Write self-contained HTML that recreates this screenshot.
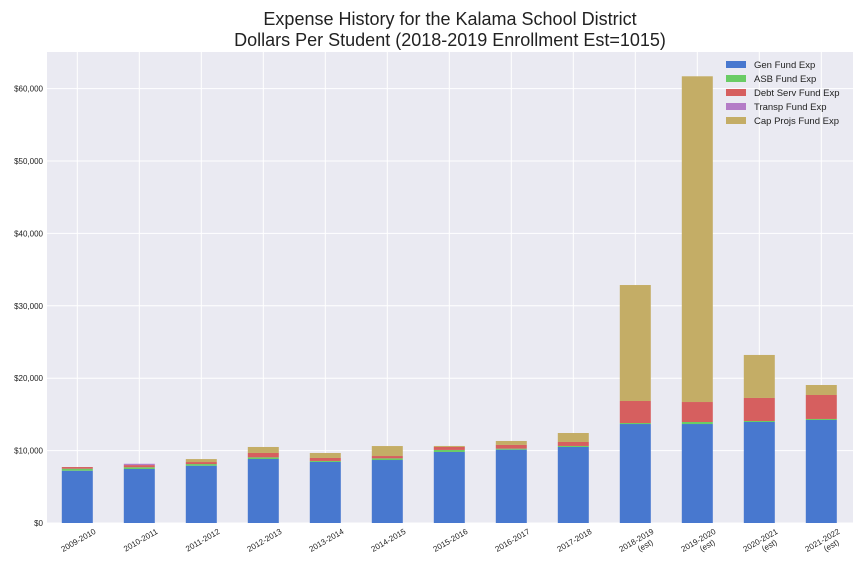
<!DOCTYPE html>
<html><head><meta charset="utf-8"><style>
body{margin:0;background:#fff;font-family:"Liberation Sans",Arial,sans-serif}
</style></head><body>
<svg id="c" width="864" height="576" xmlns="http://www.w3.org/2000/svg" font-family="Liberation Sans, Arial, sans-serif">
<rect x="0" y="0" width="864" height="576" fill="#fff"/>
<text x="450" y="25" font-size="18" text-anchor="middle" fill="#222">Expense History for the Kalama School District</text>
<text x="450" y="46" font-size="18" text-anchor="middle" fill="#222">Dollars Per Student (2018-2019 Enrollment Est=1015)</text>
<rect x="47" y="52" width="806" height="471" fill="#eaeaf2"/>
<g id="grid"></g><g id="bars"></g><g id="ticks"></g><g id="legend"></g>
</svg>
<script>
const categories=["2009-2010","2010-2011","2011-2012","2012-2013","2013-2014","2014-2015","2015-2016","2016-2017","2017-2018","2018-2019|(est)","2019-2020|(est)","2020-2021|(est)","2021-2022|(est)"];
const genFund=[7220,7460,7910,8840,8430,8700,9810,10130,10500,13670,13670,13950,14230];
const asbFund=[280,240,230,230,140,230,280,140,140,140,280,140,140];
const debtFund=[230,300,280,600,410,320,410,510,550,3040,2760,3180,3310];
const transpFund=[0,180,0,0,0,0,0,0,0,0,0,0,0];
const capFund=[0,0,410,830,690,1380,140,550,1240,16020,44990,5940,1380];
const yTicks=[0,10000,20000,30000,40000,50000,60000];
const seriesNames=["Gen Fund Exp","ASB Fund Exp","Debt Serv Fund Exp","Transp Fund Exp","Cap Projs Fund Exp"];
const series=[genFund,asbFund,debtFund,transpFund,capFund];
const colors=["#4878cf","#6acc65","#d65f5f","#b47cc7","#c4ad66"];
const NS="http://www.w3.org/2000/svg";
const X0=47,X1=853,Y0=523,PERK=7.24;
function y(v){return Y0-v*PERK/1000;}
function xc(i){return 77.3+i*62;}
function mk(t,a,p){const e=document.createElementNS(NS,t);for(const k in a)e.setAttribute(k,a[k]);p.appendChild(e);return e;}
const grid=document.getElementById('grid'),bars=document.getElementById('bars'),ticks=document.getElementById('ticks'),leg=document.getElementById('legend');
yTicks.forEach(v=>{
 const l=mk('line',{x1:X0,x2:X1,y1:y(v),y2:y(v),stroke:'#fff','stroke-width':1},grid);
 
 
 const t=mk('text',{x:43,y:y(v)+3,'font-size':8,'text-anchor':'end',fill:'#222'},ticks);
 t.textContent='$'+v.toLocaleString('en-US');
 
 
});
categories.forEach((c,i)=>{
 const l=mk('line',{x1:xc(i),x2:xc(i),y1:52,y2:Y0,stroke:'#fff','stroke-width':1},grid);
 
 
 let base=0;
 series.forEach((s,k)=>{
  const v=s[i]; if(v<=0)return;
  const r=mk('rect',{x:xc(i)-15.5,width:31,y:y(base+v),height:v*PERK/1000,fill:colors[k]},bars);
  
  
  base+=v;
 });
 const parts=c.split('|');
 const g=mk('g',{transform:`translate(${xc(i)+19},${Y0+10}) rotate(-30)`},ticks);
 
 
 parts.forEach((p,j)=>{const t=mk('text',{x:j?-6:0,y:j*9,'font-size':8,'text-anchor':'end',fill:'#222'},g);t.textContent=p;});
});
seriesNames.forEach((n,k)=>{
 const yy=64.5+k*14;
 const r=mk('rect',{x:726,y:yy-3.5,width:20,height:7,fill:colors[k]},leg);
 
 
 const t=mk('text',{x:754,y:yy+3.5,'font-size':9.5,fill:'#222'},leg);
 t.textContent=n;
 
 
});
</script>
</body></html>
